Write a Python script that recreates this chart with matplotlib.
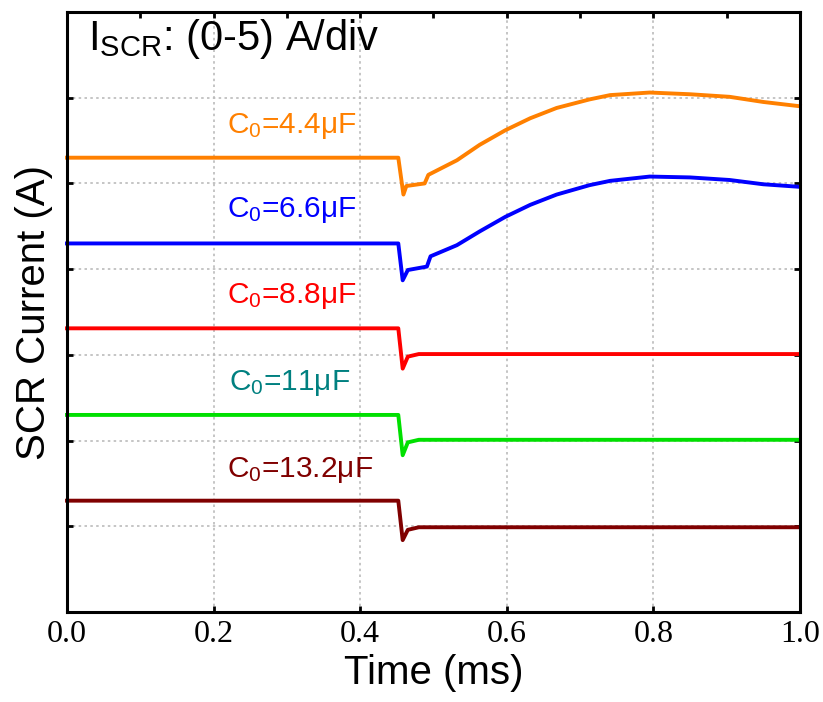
import matplotlib
matplotlib.use("Agg")
import matplotlib.pyplot as plt
from matplotlib.ticker import MultipleLocator

plt.rcParams['font.family'] = ['Liberation Sans', 'DejaVu Sans']
plt.rcParams['mathtext.fontset'] = 'custom'
plt.rcParams['mathtext.rm'] = 'Liberation Sans'
plt.rcParams['mathtext.it'] = 'Liberation Sans:italic'

# time (ms) and current (in divisions)
t_flat = [0.0, 0.452, 0.458, 0.465, 0.48, 1.0]
i_88 = [3.31, 3.31, 2.84, 2.98, 3.01, 3.01]
i_11 = [2.30, 2.30, 1.83, 1.98, 2.01, 2.01]
i_132 = [1.30, 1.30, 0.84, 0.96, 0.99, 0.99]

t_44 = [0.0, 0.452, 0.459, 0.463, 0.488, 0.493, 0.532, 0.563, 0.598,
        0.632, 0.668, 0.713, 0.741, 0.795, 0.850, 0.904, 0.950, 1.0]
i_44 = [5.30, 5.30, 4.87, 4.97, 5.00, 5.10, 5.27, 5.45, 5.62,
        5.76, 5.88, 5.98, 6.03, 6.06, 6.04, 6.01, 5.95, 5.90]

t_66 = [0.0, 0.452, 0.458, 0.465, 0.491, 0.496, 0.532, 0.563, 0.598,
        0.632, 0.668, 0.713, 0.741, 0.795, 0.850, 0.904, 0.950, 1.0]
i_66 = [4.30, 4.30, 3.87, 3.99, 4.03, 4.15, 4.28, 4.44, 4.61,
        4.75, 4.87, 4.98, 5.03, 5.08, 5.07, 5.04, 4.99, 4.96]

labels = [r'C$_\mathrm{0}$=4.4μF', r'C$_\mathrm{0}$=6.6μF', r'C$_\mathrm{0}$=8.8μF',
          r'C$_\mathrm{0}$=11μF', r'C$_\mathrm{0}$=13.2μF']
line_colors = ['#FF8000', '#0000FF', '#FF0000', '#00E000', '#800000']
text_colors = ['#FF8000', '#0000FF', '#FF0000', '#008080', '#800000']
label_x = [0.307, 0.307, 0.307, 0.304, 0.318]
label_y = [5.59, 4.61, 3.61, 2.59, 1.58]

series = [(t_44, i_44), (t_66, i_66), (t_flat, i_88), (t_flat, i_11), (t_flat, i_132)]

fig = plt.figure(figsize=(8.23, 7.02), dpi=100)
ax = fig.add_axes([0.0814, 0.128, 0.8906, 0.855])

for (t, i), c in zip(series, line_colors):
    ax.plot(t, i, color=c, lw=2.8, clip_on=False)

for txt, x, y, c in zip(labels, label_x, label_y, text_colors):
    ax.text(x, y, txt, color=c, fontsize=21.5, ha='center', va='baseline')

ax.text(0.029, 6.56, r'I$_\mathrm{SCR}$: (0-5) A/div', fontsize=30,
        ha='left', va='baseline')

ax.set_xlim(0, 1.0)
ax.set_ylim(0, 7)
ax.xaxis.set_major_locator(MultipleLocator(0.2))
ax.xaxis.set_minor_locator(MultipleLocator(0.1))
ax.set_yticks([1, 2, 3, 4, 5, 6])
ax.set_yticklabels([])
ax.set_xticks([0.0, 0.2, 0.4, 0.6, 0.8, 1.0])
ax.set_xticklabels(['0.0', '0.2', '0.4', '0.6', '0.8', '1.0'],
                   family='Liberation Serif', fontsize=23)
ax.tick_params(which='major', direction='in', length=4, width=2,
               top=True, right=True, pad=6)
ax.tick_params(which='minor', direction='in', length=4, width=2,
               top=True, bottom=False)

ax.grid(True, which='major', color='#BBBBBB', linestyle=(0, (1.5, 2)), lw=1.2)

for s in ax.spines.values():
    s.set_linewidth(2.2)

ax.set_xlabel('Time (ms)', fontsize=29, labelpad=3)
ax.set_ylabel('SCR Current (A)', fontsize=29, labelpad=4)

fig.savefig('out.png', dpi=100)
